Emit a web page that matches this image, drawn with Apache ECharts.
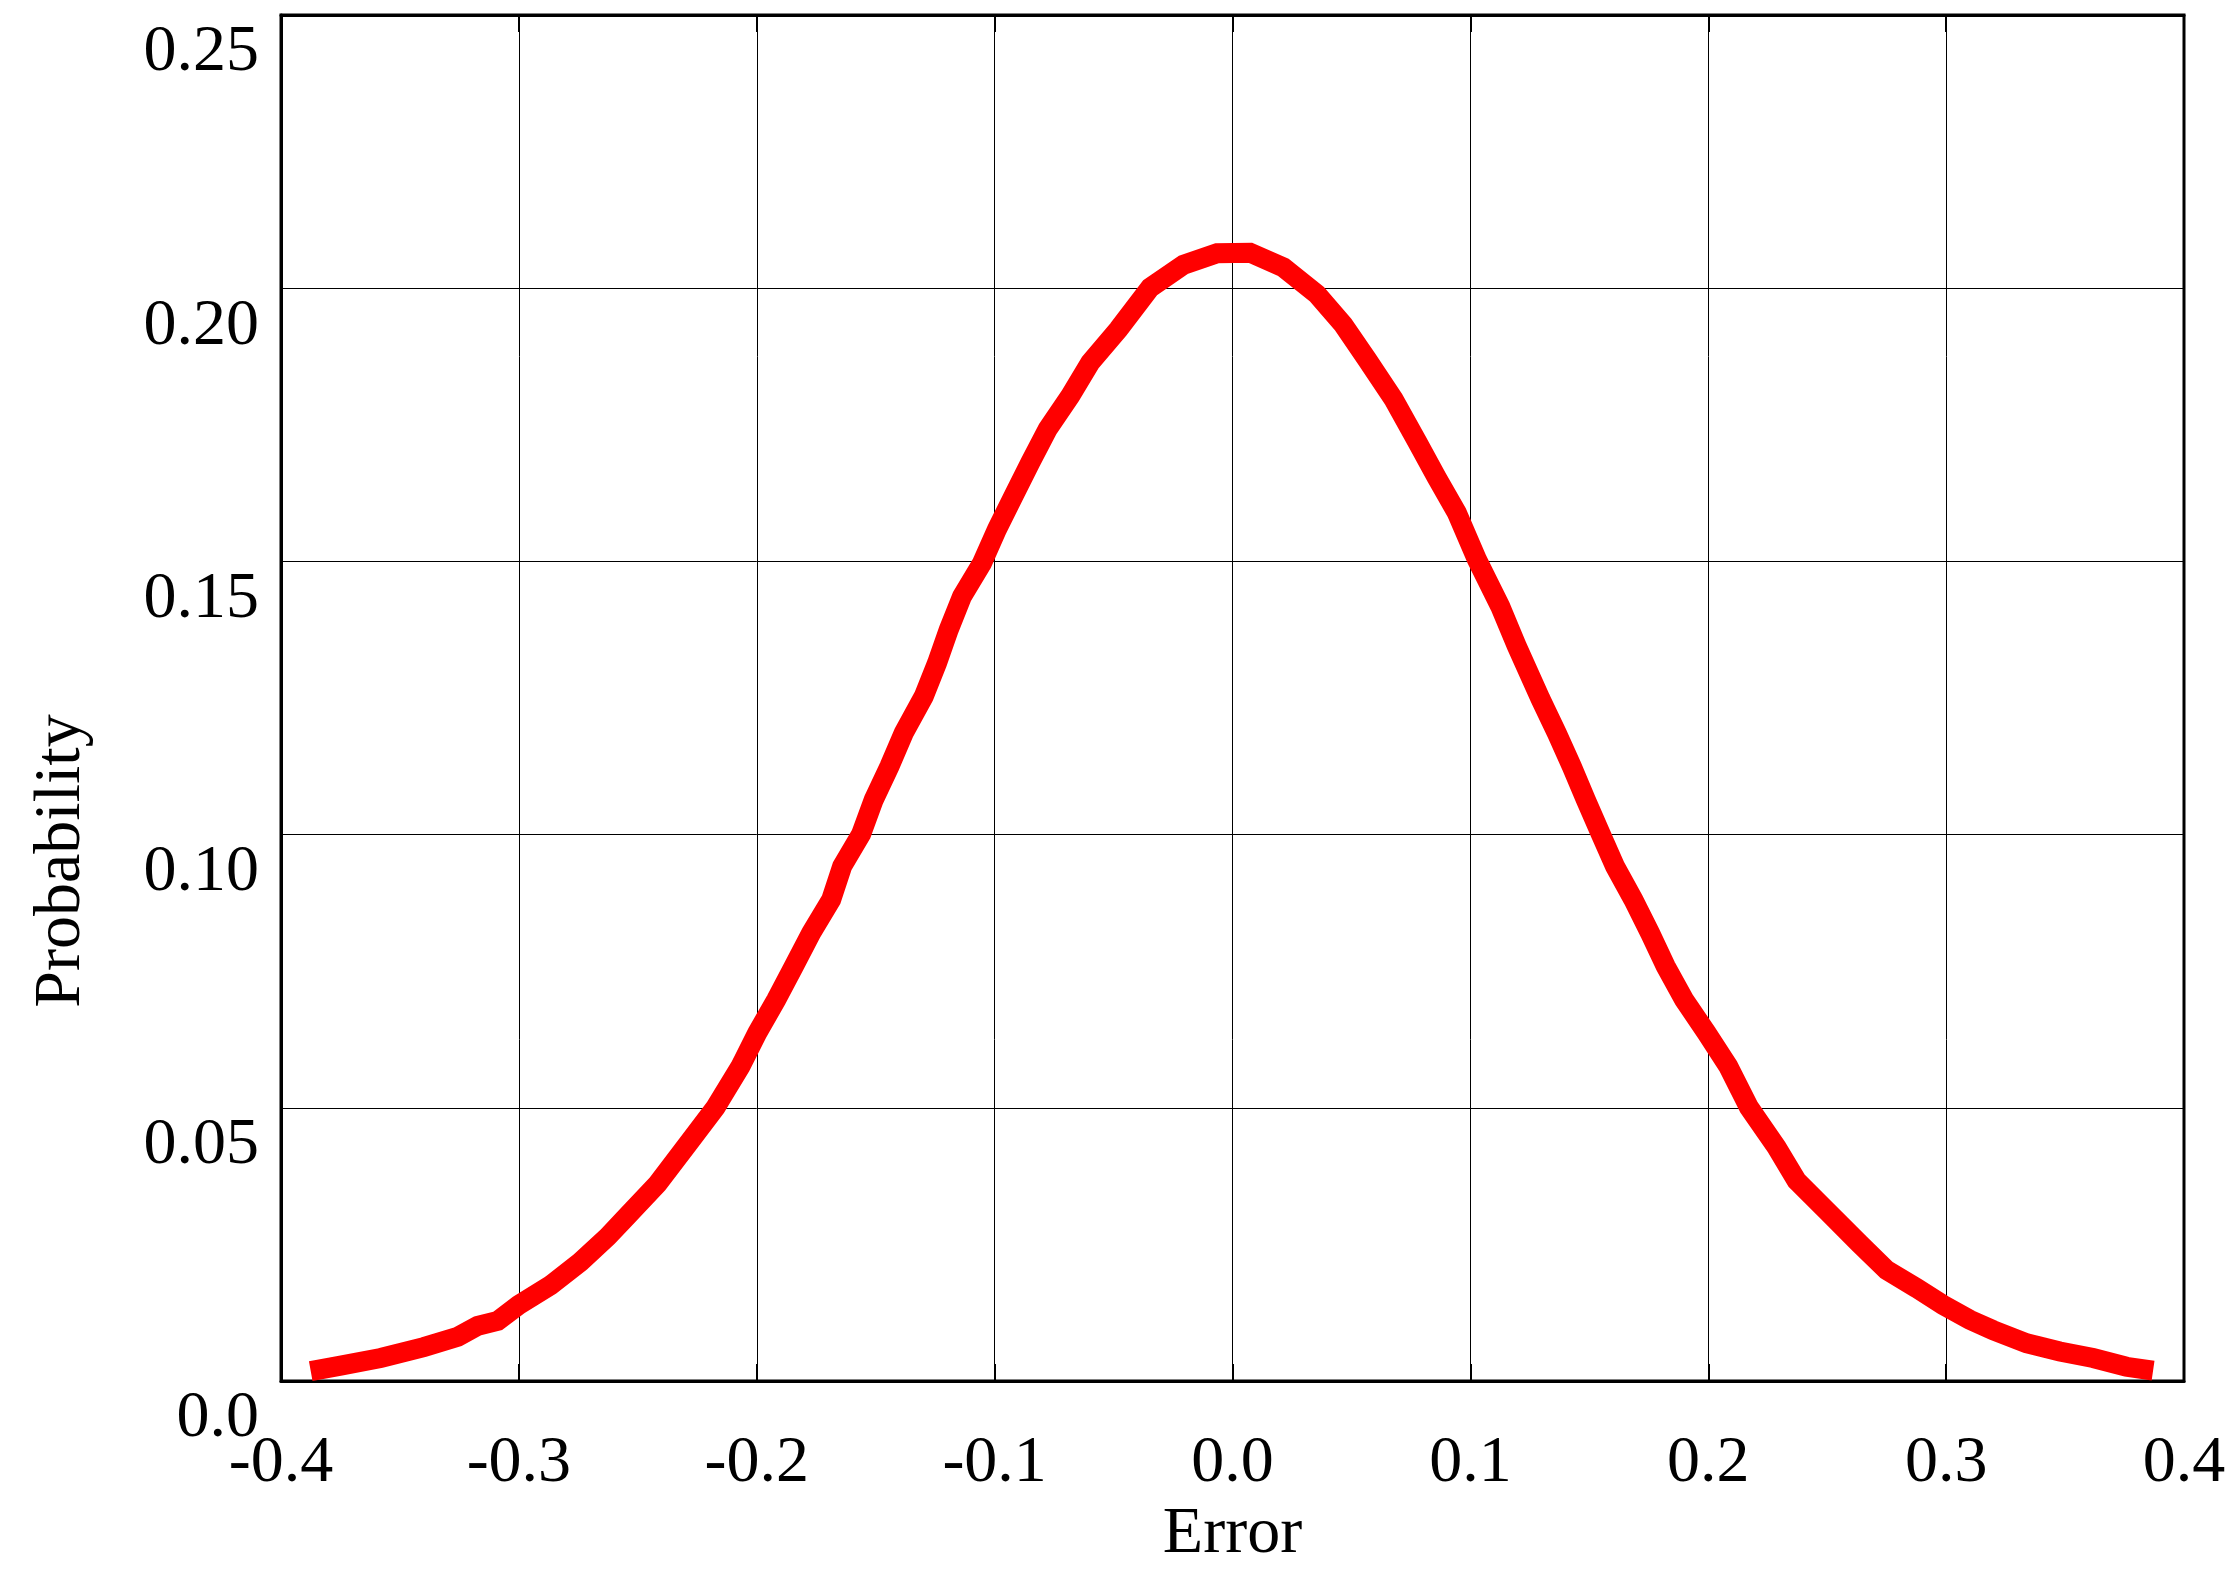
<!DOCTYPE html>
<html>
<head>
<meta charset="utf-8">
<script src="https://cdn.jsdelivr.net/npm/echarts@6/dist/echarts.min.js"></script>
<style>
html,body{margin:0;padding:0;background:#fff;}
#chart{width:2239px;height:1595px;}
</style>
</head>
<body>
<div id="chart"></div>
<script>
// Error values (x)
const errorX = [-0.3875,-0.3749,-0.3581,-0.3400,-0.3257,-0.3173,-0.3089,-0.3001,-0.2867,-0.2741,
  -0.2627,-0.2560,-0.2417,-0.2279,-0.2173,-0.2068,-0.1998,-0.1918,-0.1844,-0.1771,
  -0.1687,-0.1641,-0.1561,-0.1508,-0.1442,-0.1382,-0.1298,-0.1242,-0.1193,-0.1137,
  -0.1053,-0.0990,-0.0920,-0.0850,-0.0777,-0.0682,-0.0598,-0.0479,-0.0346,-0.0206,
  -0.0065,0.0074,0.0214,0.0355,0.0466,0.0565,0.0677,0.0775,0.0859,0.0943,
  0.1027,0.1125,0.1195,0.1295,0.1363,0.1426,0.1485,0.1548,0.1608,0.1685,
  0.1755,0.1821,0.1898,0.1993,0.2084,0.2171,0.2287,0.2371,0.2497,0.2637,
  0.2750,0.2876,0.2988,0.3100,0.3198,0.3338,0.3478,0.3618,0.3758,0.3870];
// Probability values (y)
const probY = [0.0018,0.0028,0.0042,0.0062,0.0081,0.0101,0.0110,0.0139,0.0175,0.0218,
  0.0264,0.0295,0.0361,0.0440,0.0501,0.0576,0.0637,0.0698,0.0759,0.0820,
  0.0881,0.0942,0.1001,0.1064,0.1125,0.1186,0.1253,0.1314,0.1375,0.1436,
  0.1497,0.1559,0.1620,0.1681,0.1742,0.1803,0.1864,0.1925,0.2001,0.2043,
  0.2064,0.2065,0.2038,0.1989,0.1933,0.1870,0.1797,0.1720,0.1653,0.1589,
  0.1504,0.1418,0.1345,0.1248,0.1186,0.1125,0.1064,0.1001,0.0942,0.0881,
  0.0820,0.0759,0.0698,0.0637,0.0576,0.0501,0.0428,0.0367,0.0312,0.0251,
  0.0203,0.0170,0.0139,0.0112,0.0093,0.0069,0.0054,0.0042,0.0026,0.0019];
const xTickLabels = ['-0.4','-0.3','-0.2','-0.1','0.0','0.1','0.2','0.3','0.4'];
const yTickLabels = ['0.0','0.05','0.10','0.15','0.20','0.25'];
const xName = 'Error';
const yName = 'Probability';

const seriesData = errorX.map((x, i) => [x, probY[i]]);
const FONT = '"Liberation Serif", "Times New Roman", serif';
const FS = 66;

const chart = echarts.init(document.getElementById('chart'), null, {renderer: 'canvas'});
chart.setOption({
  animation: false,
  backgroundColor: '#ffffff',
  grid: {left: 281, right: 55, top: 15, bottom: 214, show: true, borderColor: '#000', borderWidth: 3, backgroundColor: 'transparent'},
  xAxis: [{
    type: 'value', min: -0.4, max: 0.4, interval: 0.1,
    name: xName, nameLocation: 'middle', nameGap: 89,
    nameTextStyle: {fontFamily: FONT, fontSize: FS, color: '#000'},
    axisLine: {show: true, onZero: false, lineStyle: {color: '#000', width: 3}},
    axisTick: {show: true, inside: true, length: 17, lineStyle: {color: '#000', width: 2}},
    splitLine: {show: true, lineStyle: {color: '#000', width: 1}},
    axisLabel: {
      fontFamily: FONT, fontSize: FS, color: '#000', margin: 50,
      formatter: (v) => xTickLabels[Math.round((v + 0.4) / 0.1)]
    }
  }, {
    type: 'value', position: 'top', min: -0.4, max: 0.4, interval: 0.1,
    axisLine: {show: true, onZero: false, lineStyle: {color: '#000', width: 3}},
    axisTick: {show: true, inside: true, length: 17, lineStyle: {color: '#000', width: 2}},
    splitLine: {show: false},
    axisLabel: {show: false}
  }],
  yAxis: {
    type: 'value', min: 0, max: 0.25, interval: 0.05,
    name: yName, nameLocation: 'middle', nameGap: 186, nameRotate: 90,
    nameTextStyle: {fontFamily: FONT, fontSize: FS, color: '#000', padding: [0, 326, 0, 0]},
    axisLine: {show: true, onZero: false, lineStyle: {color: '#000', width: 3}},
    axisTick: {show: false},
    splitLine: {show: true, lineStyle: {color: '#000', width: 1}},
    axisLabel: {
      fontFamily: FONT, fontSize: FS, color: '#000', margin: 22, verticalAlign: 'top',
      padding: [5, 0, 0, 0],
      formatter: (v) => yTickLabels[Math.round(v / 0.05)]
    }
  },
  series: [{
    type: 'line', data: seriesData, showSymbol: false, symbol: 'none',
    lineStyle: {color: '#ff0000', width: 20, cap: 'butt', join: 'miter'},
    z: 3
  }]
});
</script>
</body>
</html>
